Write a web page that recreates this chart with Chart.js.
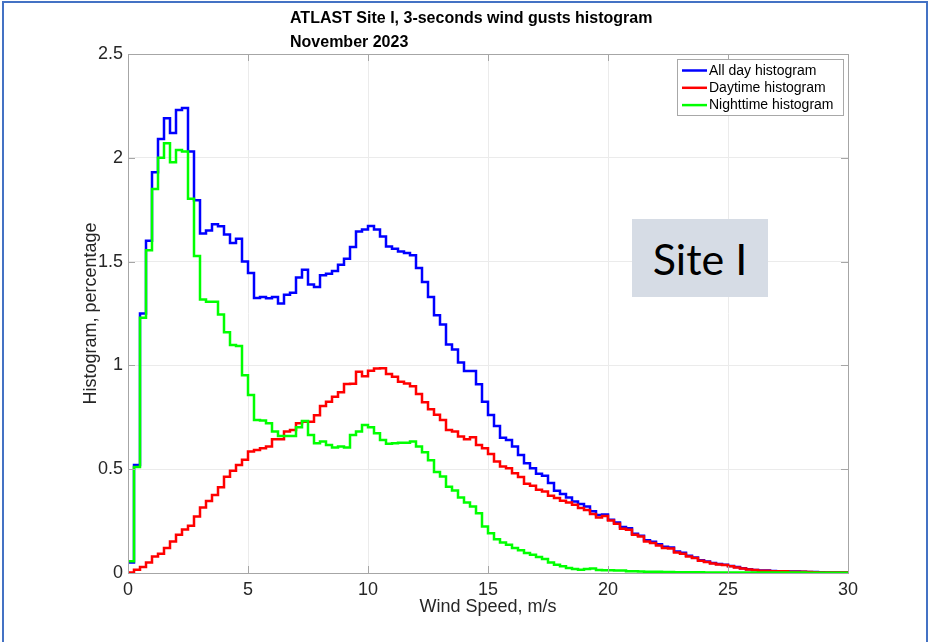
<!DOCTYPE html>
<html>
<head>
<meta charset="utf-8">
<script src="https://cdn.jsdelivr.net/npm/chart.js@4.4.1/dist/chart.umd.min.js"></script>
<style>
  html, body { margin: 0; padding: 0; background: #fff; }
  #wrap { position: relative; width: 928px; height: 642px; }
  #frame { position: absolute; left: 2px; top: 1px; width: 922px; height: 645px;
           border-left: 2px solid #4472c4; border-top: 2px solid #4472c4; border-right: 2px solid #4472c4; }
  #siteBox { position: absolute; left: 632px; top: 219px; width: 136px; height: 78px; background: #d6dce5;
             font-family: Lato, "Open Sans", sans-serif; font-size: 43px; color: #000;
             display: flex; align-items: center; justify-content: center; }
</style>
</head>
<body>
<div id="wrap">
  <canvas id="chart" width="928" height="642"></canvas>
  <div id="siteBox">Site I</div>
  <div id="frame"></div>
</div>
<script>
// Histogram bins: 0.25 m/s wide, 0 .. 30 m/s
const binWidth = 0.25;
const binCount = 120;

const seriesNames = ['All day histogram', 'Daytime histogram', 'Nighttime histogram'];
const seriesColors = ['#0000ff', '#ff0000', '#00ff00'];

const allDay = [
  0.05, 0.52, 1.25, 1.60, 1.93, 2.09, 2.19, 2.12, 2.23, 2.24,
  2.03, 1.795, 1.635, 1.65, 1.68, 1.67, 1.63, 1.59, 1.61, 1.50,
  1.445, 1.325, 1.33, 1.324, 1.33, 1.298, 1.34, 1.35, 1.423, 1.461,
  1.39, 1.378, 1.434, 1.442, 1.455, 1.485, 1.514, 1.57, 1.645, 1.655,
  1.671, 1.655, 1.621, 1.573, 1.562, 1.549, 1.541, 1.53, 1.469, 1.402,
  1.33, 1.242, 1.197, 1.101, 1.077, 1.014, 0.973, 0.973, 0.909, 0.825,
  0.761, 0.708, 0.652, 0.641, 0.609, 0.569, 0.529, 0.505, 0.478, 0.468,
  0.433, 0.396, 0.381, 0.364, 0.345, 0.332, 0.32, 0.297, 0.279, 0.282,
  0.256, 0.243, 0.221, 0.216, 0.189, 0.18, 0.158, 0.150, 0.139, 0.126,
  0.123, 0.103, 0.097, 0.083, 0.075, 0.062, 0.055, 0.048, 0.043, 0.040,
  0.034, 0.029, 0.023, 0.018, 0.015, 0.012, 0.012, 0.010, 0.009, 0.008,
  0.007, 0.007, 0.006, 0.005, 0.005, 0.004, 0.003, 0.003, 0.002, 0.002
];

const daytime = [
  0.003, 0.016, 0.029, 0.051, 0.08, 0.093, 0.12, 0.152, 0.184, 0.21,
  0.227, 0.272, 0.315, 0.347, 0.376, 0.413, 0.464, 0.493, 0.52, 0.545,
  0.585, 0.593, 0.601, 0.609, 0.644, 0.644, 0.681, 0.689, 0.721, 0.729,
  0.729, 0.76, 0.804, 0.825, 0.849, 0.871, 0.91, 0.912, 0.969, 0.948,
  0.974, 0.985, 0.986, 0.958, 0.945, 0.921, 0.913, 0.9, 0.862, 0.822,
  0.789, 0.762, 0.737, 0.689, 0.681, 0.657, 0.644, 0.654, 0.617, 0.601,
  0.573, 0.537, 0.513, 0.505, 0.481, 0.462, 0.43, 0.42, 0.401, 0.393,
  0.372, 0.361, 0.348, 0.34, 0.329, 0.313, 0.304, 0.284, 0.267, 0.275,
  0.253, 0.237, 0.213, 0.208, 0.184, 0.176, 0.152, 0.144, 0.133, 0.12,
  0.118, 0.099, 0.093, 0.080, 0.072, 0.059, 0.053, 0.046, 0.041, 0.038,
  0.032, 0.027, 0.022, 0.017, 0.014, 0.011, 0.011, 0.009, 0.008, 0.008,
  0.006, 0.006, 0.006, 0.005, 0.004, 0.003, 0.003, 0.002, 0.002, 0.002
];

const nighttime = [
  0.056, 0.51, 1.23, 1.555, 1.85, 2.0, 2.07, 1.979, 2.038, 2.03,
  1.803, 1.527, 1.317, 1.306, 1.306, 1.245, 1.16, 1.098, 1.093, 0.953,
  0.857, 0.737, 0.734, 0.721, 0.681, 0.66, 0.66, 0.66, 0.702, 0.732,
  0.665, 0.625, 0.633, 0.617, 0.605, 0.609, 0.605, 0.665, 0.681, 0.713,
  0.702, 0.673, 0.641, 0.622, 0.625, 0.628, 0.628, 0.633, 0.609, 0.582,
  0.543, 0.487, 0.465, 0.416, 0.397, 0.364, 0.339, 0.320, 0.288, 0.224,
  0.192, 0.163, 0.147, 0.136, 0.120, 0.109, 0.096, 0.088, 0.077, 0.067,
  0.051, 0.040, 0.032, 0.024, 0.019, 0.016, 0.019, 0.022, 0.015, 0.013,
  0.013, 0.012, 0.012, 0.009, 0.008, 0.007, 0.006, 0.006, 0.006, 0.005,
  0.005, 0.004, 0.004, 0.004, 0.004, 0.004, 0.003, 0.003, 0.003, 0.003,
  0.003, 0.003, 0.003, 0.003, 0.003, 0.003, 0.002, 0.002, 0.002, 0.002,
  0.002, 0.002, 0.002, 0.001, 0.001, 0.001, 0.001, 0.001, 0.001, 0.001
];

const xTicks = [0, 5, 10, 15, 20, 25, 30];
const yTicks = [0, 0.5, 1, 1.5, 2, 2.5];
const titleLines = ['ATLAST Site I, 3-seconds wind gusts histogram', 'November 2023'];

const FONT = '"Liberation Sans", Arial, Helvetica, sans-serif';
const AXIS_GREY = '#a6a6a6';

// stairs: one point per left bin edge, plus the closing right edge
function toStairs(values) {
  const pts = values.map((v, i) => ({ x: i * binWidth, y: v }));
  pts.push({ x: binCount * binWidth, y: values[values.length - 1] });
  return pts;
}

// title, axes box with inward ticks, legend
const decorPlugin = {
  id: 'decor',
  afterDatasetsDraw(chart) {
    const { ctx, chartArea: a, scales } = chart;
    ctx.save();
    ctx.strokeStyle = AXIS_GREY;
    ctx.lineWidth = 1;
    ctx.strokeRect(a.left + 0.5, a.top + 0.5, a.right - a.left, a.bottom - a.top);
    ctx.beginPath();
    xTicks.forEach(t => {
      const px = Math.round(scales.x.getPixelForValue(t)) + 0.5;
      ctx.moveTo(px, a.bottom); ctx.lineTo(px, a.bottom - 7);
      ctx.moveTo(px, a.top); ctx.lineTo(px, a.top + 7);
    });
    yTicks.forEach(t => {
      const py = Math.round(scales.y.getPixelForValue(t)) + 0.5;
      ctx.moveTo(a.left, py); ctx.lineTo(a.left + 7, py);
      ctx.moveTo(a.right, py); ctx.lineTo(a.right - 7, py);
    });
    ctx.stroke();

    // legend box
    const lx = 677, ly = 59, lw = 166, lh = 56;
    ctx.fillStyle = '#fff';
    ctx.fillRect(lx, ly, lw, lh);
    ctx.strokeStyle = '#a8a8a8';
    ctx.strokeRect(lx + 0.5, ly + 0.5, lw, lh);
    ctx.font = '14px ' + FONT;
    ctx.textBaseline = 'middle';
    chart.data.datasets.forEach((ds, i) => {
      const y = ly + 11.5 + i * 17.3;
      ctx.strokeStyle = ds.borderColor;
      ctx.lineWidth = 2.5;
      ctx.beginPath();
      ctx.moveTo(682, y); ctx.lineTo(707, y);
      ctx.stroke();
      ctx.fillStyle = '#000';
      ctx.fillText(ds.label, 709, y + 0.5);
    });

    // title
    ctx.fillStyle = '#000';
    ctx.font = 'bold 16px ' + FONT;
    ctx.textBaseline = 'middle';
    ctx.textAlign = 'left';
    titleLines.forEach((t, i) => ctx.fillText(t, 290, 19 + i * 24));
    ctx.restore();
  }
};

const ctx = document.getElementById('chart').getContext('2d');

new Chart(ctx, {
  type: 'line',
  data: {
    datasets: [allDay, daytime, nighttime].map((vals, i) => ({
      label: seriesNames[i],
      data: toStairs(vals),
      borderColor: seriesColors[i],
      backgroundColor: seriesColors[i],
      borderWidth: 2.5,
      stepped: true,
      pointRadius: 0,
      fill: false,
      order: 3 - i
    }))
  },
  options: {
    responsive: false,
    animation: false,
    devicePixelRatio: 1,
    layout: { padding: { left: 0, right: 80, top: 54, bottom: 0 } },
    plugins: {
      legend: { display: false },
      tooltip: { enabled: false }
    },
    scales: {
      x: {
        type: 'linear',
        min: 0,
        max: 30,
        afterFit: s => { s.height = 69; },
        afterBuildTicks: s => { s.ticks = xTicks.map(v => ({ value: v })); },
        ticks: {
          font: { family: FONT, size: 18 },
          color: '#262626',
          padding: 6,
          maxRotation: 0,
          callback: v => String(v)
        },
        grid: { color: '#ebebeb', drawTicks: false },
        border: { color: AXIS_GREY },
        title: {
          display: true,
          text: 'Wind Speed, m/s',
          font: { family: FONT, size: 18 },
          color: '#262626',
          padding: { top: 0, bottom: 24 }
        }
      },
      y: {
        min: 0,
        max: 2.5,
        afterFit: s => { s.width = 128; },
        afterBuildTicks: s => { s.ticks = yTicks.map(v => ({ value: v })); },
        ticks: {
          font: { family: FONT, size: 18 },
          color: '#262626',
          padding: 5,
          callback: v => String(v)
        },
        grid: { color: '#ebebeb', drawTicks: false },
        border: { color: AXIS_GREY },
        title: {
          display: true,
          text: 'Histogram, percentage',
          font: { family: FONT, size: 18 },
          color: '#262626',
          padding: { top: 80, bottom: 0 }
        }
      }
    }
  },
  plugins: [decorPlugin]
});
</script>
</body>
</html>
